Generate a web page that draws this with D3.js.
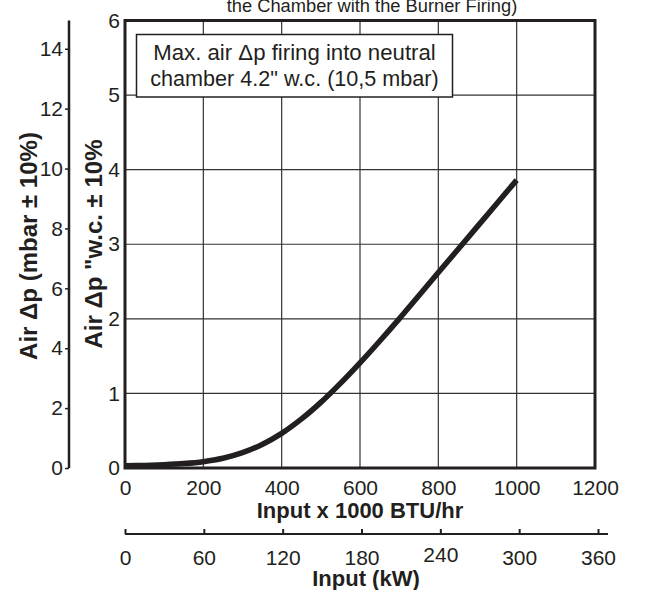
<!DOCTYPE html>
<html><head><meta charset="utf-8">
<script src="https://cdn.jsdelivr.net/npm/d3@7"></script>
<style>body{margin:0;background:#fff}svg{display:block}text{font-family:"Liberation Sans",Arial,sans-serif;fill:#231f20}</style>
</head><body><svg id="c" width="666" height="590"></svg>
<script>
const inputBTU = [0,50,100,150,200,250,300,350,400,450,500,550,600,650,700,750,800,850,900,950,1000];
const airDpWC  = [0.03,0.035,0.045,0.06,0.085,0.13,0.205,0.315,0.465,0.655,0.88,1.135,1.41,1.70,2.0,2.31,2.62,2.93,3.24,3.55,3.86];
const btuTicks = [0,200,400,600,800,1000,1200];
const kwTicks  = [0,60,120,180,240,300,360];
const wcTicks  = [0,1,2,3,4,5,6];
const mbarTicks= [0,2,4,6,8,10,12,14];
const titleText = "the Chamber with the Burner Firing)";
const noteLines = ["Max. air \u0394p firing into neutral","chamber 4.2\" w.c. (10,5 mbar)"];

const svg = d3.select("#c");
const ink = "#231f20";
const L=125,R=595,T=20.5,B=468;
const x = d3.scaleLinear().domain([0,1200]).range([L,R]);
const y = d3.scaleLinear().domain([0,6]).range([B,T]);
const yM = d3.scaleLinear().domain([0,6/0.4015]).range([B,T]);
const xK = d3.scaleLinear().domain([0,360]).range([L,598]);

// title (clipped at top)
svg.append("text").attr("x",372).attr("y",12).attr("text-anchor","middle")
  .attr("font-size",18.3).text(titleText);

// grid
const g = svg.append("g");
g.selectAll("line.v").data(btuTicks.slice(1,-1)).join("line")
  .attr("x1",d=>x(d)).attr("x2",d=>x(d)).attr("y1",T).attr("y2",B)
  .attr("stroke","#333").attr("stroke-width",1.2);
g.selectAll("line.h").data(wcTicks.slice(1,-1)).join("line")
  .attr("y1",d=>y(d)).attr("y2",d=>y(d)).attr("x1",L).attr("x2",R)
  .attr("stroke","#333").attr("stroke-width",1.2);

// note box
const nb = svg.append("g");
nb.append("rect").attr("x",136.5).attr("y",34.5).attr("width",316).attr("height",62.5)
  .attr("fill","#fff").attr("stroke",ink).attr("stroke-width",1.5);
noteLines.forEach((t,i)=>nb.append("text").attr("x",294.5).attr("y",59.5+i*26)
  .attr("text-anchor","middle").attr("font-size",i===0?22.2:21.6).text(t));

// frame
svg.append("rect").attr("x",L).attr("y",T).attr("width",R-L).attr("height",B-T)
  .attr("fill","none").attr("stroke",ink).attr("stroke-width",3);

// curve
const line = d3.line().x(d=>x(d[0])).y(d=>y(d[1])).curve(d3.curveCatmullRom.alpha(0.5));
svg.append("path").datum(inputBTU.map((v,i)=>[v,airDpWC[i]]))
  .attr("d",line).attr("fill","none").attr("stroke",ink).attr("stroke-width",5.5);

// BTU axis labels
const ax = svg.append("g").attr("transform",`translate(0,${B})`)
  .call(d3.axisBottom(x).tickValues(btuTicks).tickSize(0).tickPadding(0).tickFormat(d3.format("d")));
ax.select(".domain").remove();
ax.selectAll("text").attr("font-size",21).attr("dy",null).attr("y",27).style("font-family","Liberation Sans").attr("fill",ink);
svg.append("text").attr("x",360).attr("y",518).attr("text-anchor","middle")
  .attr("font-size",22).attr("font-weight","bold").text("Input x 1000 BTU/hr");

// kW axis
const ak = svg.append("g").attr("transform","translate(0,534)")
  .call(d3.axisTop(xK).tickValues(kwTicks).tickSize(5).tickSizeOuter(0).tickFormat(d3.format("d")));
ak.select(".domain").attr("d",`M${L},0H608`).attr("stroke",ink).attr("stroke-width",2);
ak.selectAll(".tick line").attr("stroke",ink).attr("stroke-width",2);
ak.selectAll("text").attr("font-size",21).attr("y",d=>d===240?28:31).attr("dy",null).style("font-family","Liberation Sans").attr("fill",ink);
svg.append("text").attr("x",366).attr("y",586).attr("text-anchor","middle")
  .attr("font-size",22).attr("font-weight","bold").text("Input (kW)");

// w.c. labels
const aw = svg.append("g").attr("transform",`translate(${L},0)`)
  .call(d3.axisLeft(y).tickValues(wcTicks).tickSize(0).tickPadding(5).tickFormat(d3.format("d")));
aw.select(".domain").remove();
aw.selectAll("text").attr("font-size",21).style("font-family","Liberation Sans").attr("fill",ink);

// mbar axis
const am = svg.append("g").attr("transform","translate(69,0)")
  .call(d3.axisLeft(yM).tickValues(mbarTicks).tickSize(4).tickSizeOuter(0).tickPadding(2).tickFormat(d3.format("d")));
am.select(".domain").attr("d",`M0,${T}V${B}`).attr("stroke",ink).attr("stroke-width",2.5);
am.selectAll(".tick line").attr("stroke",ink).attr("stroke-width",1.5);
am.selectAll("text").attr("font-size",21).style("font-family","Liberation Sans").attr("fill",ink);

// y titles
svg.append("text").attr("transform","translate(37,246) rotate(-90)").attr("text-anchor","middle")
  .attr("font-size",24).attr("font-weight","bold").text("Air \u0394p (mbar \u00b1 10%)");
svg.append("text").attr("transform","translate(102,244) rotate(-90)").attr("text-anchor","middle")
  .attr("font-size",24).attr("font-weight","bold").text("Air \u0394p \"w.c. \u00b1 10%");
</script></body></html>
